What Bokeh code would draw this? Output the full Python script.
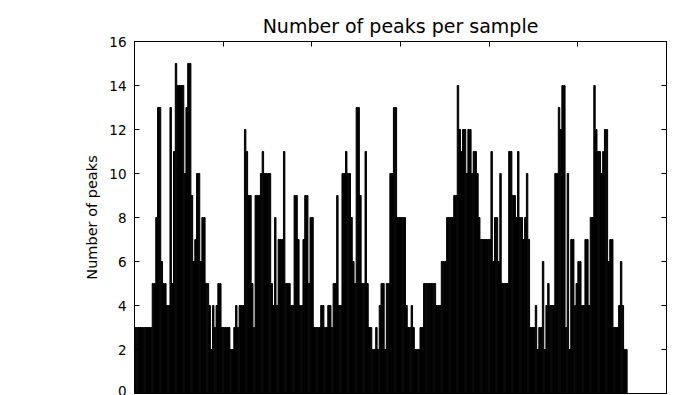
from bokeh.plotting import figure
from bokeh.models import (LinearAxis, SingleIntervalTicker, Range1d, ColumnDataSource,
                          CustomLabelingPolicy)
from bokeh.transform import dodge
from bokeh.embed import file_html
from bokeh.resources import INLINE

title_text = "Number of peaks per sample"
y_label = "Number of peaks"

peaks = [
    3, 3, 3, 3, 3, 3, 3, 3, 3, 3,
    5, 5, 8, 13, 13, 6, 5, 5, 4, 4,
    13, 5, 11, 15, 14, 14, 14, 14, 10, 13,
    15, 15, 9, 6, 7, 10, 10, 6, 8, 8,
    5, 5, 4, 2, 4, 3, 4, 5, 5, 3,
    3, 3, 3, 3, 2, 2, 3, 4, 3, 4,
    4, 4, 12, 11, 9, 9, 5, 3, 9, 9,
    9, 10, 11, 10, 10, 10, 10, 5, 4, 8,
    4, 7, 7, 7, 11, 5, 5, 5, 4, 4,
    9, 9, 7, 4, 4, 7, 9, 9, 5, 8,
    8, 3, 3, 3, 3, 4, 4, 3, 3, 4,
    4, 3, 5, 5, 9, 4, 4, 10, 10, 11,
    10, 10, 8, 6, 5, 13, 13, 9, 5, 5,
    11, 5, 3, 3, 2, 2, 3, 2, 4, 5,
    5, 2, 5, 5, 10, 10, 13, 13, 8, 8,
    8, 8, 8, 4, 3, 3, 4, 3, 2, 2,
    2, 3, 3, 5, 5, 5, 5, 5, 5, 5,
    4, 4, 4, 6, 6, 6, 8, 8, 8, 8,
    9, 9, 14, 12, 11, 12, 12, 10, 12, 12,
    10, 11, 11, 10, 8, 7, 7, 7, 7, 7,
    7, 11, 6, 8, 8, 6, 10, 5, 5, 5,
    5, 11, 11, 9, 9, 8, 11, 8, 8, 7,
    8, 10, 7, 3, 3, 3, 4, 2, 3, 3,
    6, 2, 4, 5, 4, 4, 4, 10, 10, 13,
    12, 14, 14, 3, 10, 2, 7, 7, 4, 5,
    6, 6, 4, 4, 7, 7, 4, 8, 8, 14,
    12, 11, 11, 10, 11, 12, 12, 6, 7, 7,
    3, 3, 3, 4, 6, 4, 2, 2,
]
sample = list(range(len(peaks)))

x_limits = (0, 300)
y_limits = (0, 16)
x_tick_step = 50
y_tick_step = 2

FONT = "DejaVu Sans"

src = ColumnDataSource(dict(sample=sample, peaks=peaks))

p = figure(width=674, height=395, output_backend="svg", toolbar_location=None,
           x_range=Range1d(*x_limits), y_range=Range1d(*y_limits),
           title=title_text,
           min_border_left=134, min_border_right=8, min_border_top=41,
           min_border_bottom=2)

p.vbar(x=dodge("sample", 0.4, range=p.x_range), top="peaks", bottom=0, width=0.8,
       source=src, fill_color="black", line_color="black", line_width=1)

p.outline_line_color = "black"
p.outline_line_width = 1
p.grid.visible = False
p.background_fill_color = "white"
p.border_fill_color = "white"

p.title.text_font = FONT
p.title.text_font_size = "19px"
p.title.text_font_style = "normal"
p.title.text_color = "#000000"
p.title.align = "center"
p.title.standoff = 9

p.xaxis.visible = False

yax = p.yaxis[0]
yax.ticker = SingleIntervalTicker(interval=y_tick_step, num_minor_ticks=0)
yax.major_tick_in = 5
yax.major_tick_out = 0
yax.minor_tick_line_color = None
yax.major_label_text_font = FONT
yax.major_label_text_font_size = "13.5px"
yax.major_label_text_color = "#000000"
yax.major_label_standoff = 8
yax.axis_label = y_label
yax.axis_label_text_font = FONT
yax.axis_label_text_font_size = "14.5px"
yax.axis_label_text_font_style = "normal"
yax.axis_label_text_color = "#000000"
yax.axis_label_standoff = 6
yax.axis_line_color = "black"
yax.major_tick_line_color = "black"

rax = LinearAxis(ticker=SingleIntervalTicker(interval=y_tick_step, num_minor_ticks=0),
                 major_tick_in=5, major_tick_out=0, minor_tick_line_color=None,
                 major_label_text_font_size="0px", major_label_standoff=0,
                 major_label_policy=CustomLabelingPolicy(code="return []"),
                 axis_line_color="black", major_tick_line_color="black")
p.add_layout(rax, "right")

tax = LinearAxis(ticker=SingleIntervalTicker(interval=x_tick_step, num_minor_ticks=0),
                 major_tick_in=5, major_tick_out=0, minor_tick_line_color=None,
                 major_label_text_font_size="0px", major_label_standoff=0,
                 major_label_policy=CustomLabelingPolicy(code="return []"),
                 axis_line_color="black", major_tick_line_color="black")
p.add_layout(tax, "above")

open("out.html", "w").write(file_html(p, INLINE))
